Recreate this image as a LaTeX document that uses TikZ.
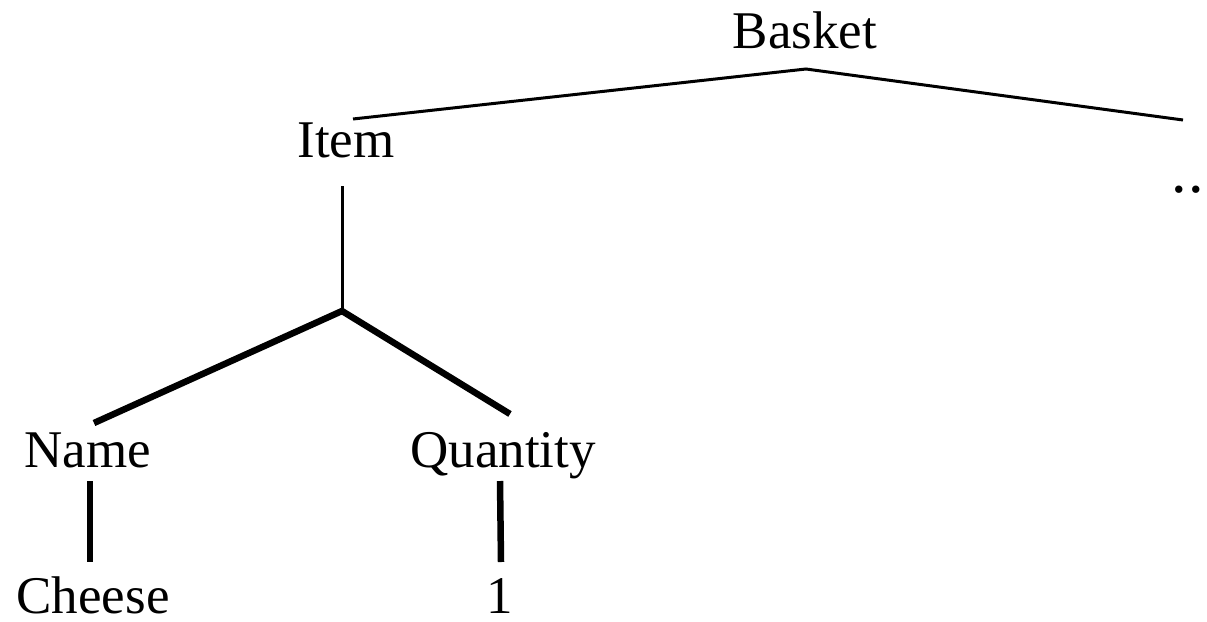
\documentclass[tikz,border=0pt]{standalone}
\usepackage{fontspec}
\setmainfont{Liberation Serif}
\begin{document}
\begin{tikzpicture}[x=1pt,y=-1pt,
  lbl/.style={anchor=base,inner sep=0pt,font=\fontsize{53}{60}\selectfont},
  thin/.style={line width=3pt},
  thick/.style={line width=6.5pt}]
\useasboundingbox (0,0) rectangle (1207,621);
% labels
\node[lbl] (basket) at (805,48) {Basket};
\node[lbl] (item) at (346,157) {Item};
\node[lbl,font=\fontsize{62}{70}\selectfont] (more) at (1188,192) {.\kern2pt.};
\node[lbl] (name) at (88,467) {Name};
\node[lbl] (qty) at (503,467) {Quantity};
\node[lbl] (cheese) at (93,613) {Cheese};
\node[lbl] (one) at (500,613) {1};
% branch points
\coordinate (top) at (806,69);
\coordinate (itemtop) at (353,119);
\coordinate (moretop) at (1183,120);
\coordinate (itemfoot) at (342,186);
\coordinate (fork) at (342,311);
\coordinate (nametop) at (94,423);
\coordinate (qtytop) at (510,414);
\coordinate (namefoot) at (90,481);
\coordinate (cheesetop) at (90,562);
\coordinate (qtyfoot) at (500,481);
\coordinate (onetop) at (501,562);
% connectors
\draw[thin] (itemtop) -- (top) -- (moretop);
\draw[thin] (itemfoot) -- (fork);
\draw[thick] (nametop) -- (fork) -- (qtytop);
\draw[thick] (namefoot) -- (cheesetop);
\draw[thick] (qtyfoot) -- (onetop);
\end{tikzpicture}
\end{document}
